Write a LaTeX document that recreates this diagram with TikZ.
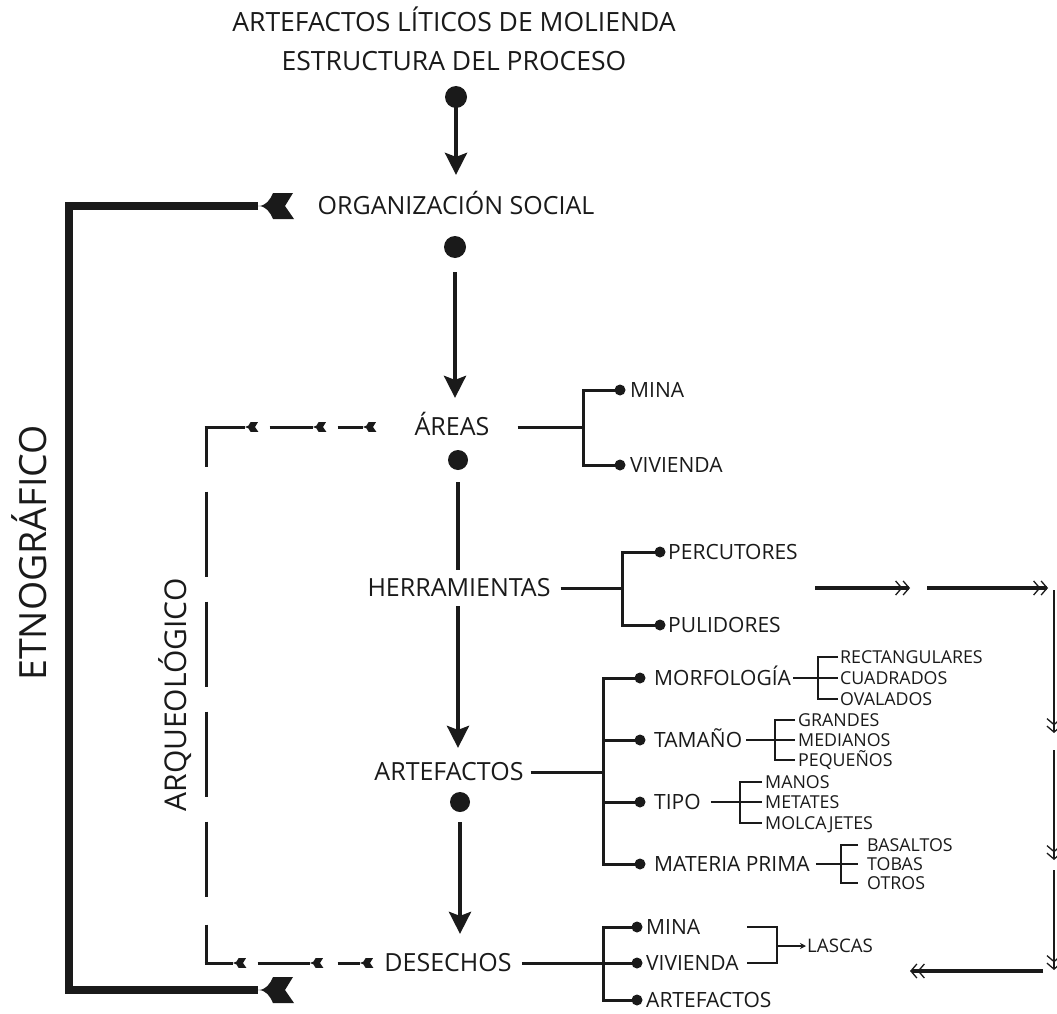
\documentclass[tikz,border=0pt]{standalone}
\usepackage{fontspec}
\setmainfont{Open Sans}
\usetikzlibrary{arrows.meta}
\definecolor{ink}{HTML}{1A1A1A}
\tikzset{
  fletch/.pic={\fill[ink] (0,0) .. controls (8,0) and (12,-6) .. (15,-13) -- (35,-13) -- (27,0) -- (36,13) -- (15,13) .. controls (12,6) and (8,0) .. (0,0) -- cycle;},
}
\begin{document}
\begin{tikzpicture}[x=1pt,y=-1pt,
  every node/.style={inner sep=0pt, text depth=0pt, text=ink},
  title/.style={font=\fontsize{26.5}{26.5}\selectfont, text height=18.9pt},
  main/.style={font=\fontsize{25}{25}\selectfont, text height=17.8pt},
  lab/.style={font=\fontsize{21}{21}\selectfont, text height=15pt, anchor=west},
  sub/.style={font=\fontsize{17.8}{17.8}\selectfont, text height=12.7pt, anchor=west},
  big/.style={font=\fontsize{37.5}{37.5}\selectfont, text height=26.8pt, rotate=90},
  dot/.style={circle, fill=ink, minimum size=22pt},
  sdot/.style={circle, fill=ink, minimum size=11pt},
  mainarr/.style={draw=ink, line width=4pt, -{Stealth[length=22pt,width=22pt,inset=4pt]}},
  stem/.style={draw=ink, line width=4pt},
  br/.style={draw=ink, line width=3pt},
  thinl/.style={draw=ink, line width=1.8pt},
  dbl/.style={draw=ink, line width=3.5pt, -{Straight Barb[line width=1.3pt,length=6pt,width=14pt] Straight Barb[line width=1.3pt,length=6pt,width=14pt]}},
  rv/.style={draw=ink, line width=2.5pt, -{Straight Barb[line width=1.3pt,length=6pt,width=14pt] Straight Barb[line width=1.3pt,length=6pt,width=14pt]}},
  dashl/.style={draw=ink, line width=3pt},
]
\fill[white] (0,0) rectangle (1057,1014);
\useasboundingbox (0,0) rectangle (1057,1014);

% main column
\node[title] (t1) at (454,22) {ARTEFACTOS LÍTICOS DE MOLIENDA};
\node[title] (t2) at (454,61) {ESTRUCTURA DEL PROCESO};
\node[dot] (d0) at (456,97) {};
\node[main] (org) at (456,206) {ORGANIZACIÓN SOCIAL};
\node[dot] (d1) at (455,247) {};
\node[main] (areas) at (452,427) {ÁREAS};
\node[dot, minimum size=20pt] (d2) at (458,460) {};
\node[main] (herr) at (459,588) {HERRAMIENTAS};
\node[main] (artef) at (449,772) {ARTEFACTOS};
\node[dot, minimum size=20pt] (d3) at (460,802) {};
\node[main] (des) at (448,963) {DESECHOS};

\draw[mainarr, shorten >=22pt] (d0.center) -- (d0 |- org.north);
\draw[mainarr, shorten <=14pt, shorten >=20pt] (d1) -- (d1 |- areas.north);
\draw[stem, shorten <=12pt, shorten >=9pt] (d2) -- (d2 |- herr.north);
\draw[mainarr, shorten <=9pt, shorten >=15pt] (d2 |- herr.south) -- (d2 |- artef.north);
\draw[mainarr, shorten <=10pt, shorten >=20pt] (d3) -- (d3 |- des.north);

% etnografico bracket
\coordinate (orgTip) at (258,206);
\coordinate (desTip) at (258,990);
\coordinate (eTop) at (69,206);
\coordinate (eBot) at (69,990);
\draw[draw=ink, line width=7.5pt] (orgTip) -- (eTop) -- (eBot) -- (desTip);
\pic at (orgTip) {fletch};
\pic at (desTip) {fletch};
\node[big] (etno) at (33,553) {ETNOGRÁFICO};

% arqueologico bracket
\coordinate (aTop) at (206,427);
\coordinate (aBot) at (206,963);
\coordinate (aH) at (363,427);
\coordinate (bH) at (360,963);
\draw[dashl, dash pattern=on 38pt off 25pt on 85pt off 25pt on 85pt off 25pt on 85pt off 25pt on 75pt off 28pt on 40pt] ([yshift=-1.5pt]aTop) -- ([yshift=1.5pt]aBot);
\draw[dashl, dash pattern=on 40pt off 25pt on 43pt off 25pt on 25pt] ([xshift=-1.5pt]aTop) -- (aH);
\draw[dashl, dash pattern=on 28pt off 25pt on 52pt off 28pt on 22pt] ([xshift=-1.5pt]aBot) -- (bH);
\foreach \x in {245,313,363} \pic[scale=0.37] at (\x,427) {fletch};
\foreach \x in {233,310,360} \pic[scale=0.37] at (\x,963) {fletch};
\node[big, font=\fontsize{30}{30}\selectfont, text height=21.4pt] (arq) at (176,695) {ARQUEOLÓGICO};

% areas branch
\coordinate (aj) at (583,427);
\node[sdot] (am) at (620,390) {};
\node[sdot] (av) at (620,465) {};
\node[lab] (amt) at (630,390) {MINA};
\node[lab] (avt) at (630,465) {VIVIENDA};
\draw[br, shorten <=28pt] (areas.east) -- (aj);
\draw[br] (am.center) -| (aj) |- (av.center);

% herramientas branch
\coordinate (hj) at (622,588);
\node[sdot] (hp) at (660,552) {};
\node[sdot] (hu) at (660,625) {};
\node[lab] (hpt) at (668,552) {PERCUTORES};
\node[lab] (hut) at (668,625) {PULIDORES};
\draw[br, shorten <=10pt] (herr.east) -- (hj);
\draw[br] (hp.center) -| (hj) |- (hu.center);

% double arrows and right loop
\coordinate (q1) at (815,588); \coordinate (q2) at (910,588);
\coordinate (q3) at (927,588); \coordinate (q4) at (1048,588);
\draw[dbl] (q1) -- (q2);
\draw[dbl] (q3) -- (q4);
\coordinate (r1) at (1054,590); \coordinate (r2) at (1054,733);
\coordinate (r3) at (1054,750); \coordinate (r4) at (1054,860);
\coordinate (r5) at (1054,870); \coordinate (r6) at (1054,970);
\draw[rv] (r1) -- (r2);
\draw[rv] (r3) -- (r4);
\draw[rv] (r5) -- (r6);
\coordinate (s1) at (1043,971); \coordinate (s2) at (910,971);
\draw[dbl] (s1) -- (s2);

% artefactos branch
\coordinate (xj) at (603,772);
\node[sdot] (xm) at (640,678) {};
\node[sdot] (xt) at (640,740) {};
\node[sdot] (xp) at (640,802) {};
\node[sdot] (xmp) at (640,864) {};
\node[lab] (morf) at (654,678) {MORFOLOGÍA};
\node[lab] (tam) at (654,740) {TAMAÑO};
\node[lab] (tipo) at (654,802) {TIPO};
\node[lab] (mp) at (654,864) {MATERIA PRIMA};
\draw[br, shorten <=7pt] (artef.east) -- (xj);
\draw[br] (xm.center) -| (xj |- xmp) -- (xmp.center);
\draw[br] (xj |- xt) -- (xt.center);
\draw[br] (xj |- xp) -- (xp.center);

% morfologia
\coordinate (mj) at (818,678);
\node[sub] (m1) at (840,657) {RECTANGULARES};
\node[sub] (m2) at (840,678) {CUADRADOS};
\node[sub] (m3) at (840,699) {OVALADOS};
\draw[thinl] ([xshift=-2pt]m1.west) -| (mj) |- ([xshift=-2pt]m3.west);
\draw[thinl, shorten <=2pt] (morf.east) -- ([xshift=-2pt]m2.west);
% tamano
\coordinate (tj) at (775,740);
\node[sub] (g1) at (798,720) {GRANDES};
\node[sub] (g2) at (798,740) {MEDIANOS};
\node[sub] (g3) at (798,760) {PEQUEÑOS};
\draw[thinl] ([xshift=-3pt]g1.west) -| (tj) |- ([xshift=-3pt]g3.west);
\draw[thinl, shorten <=4pt] (tam.east) -- ([xshift=-3pt]g2.west);
% tipo
\coordinate (pj) at (740,802);
\node[sub] (p1) at (765,782) {MANOS};
\node[sub] (p2) at (765,802) {METATES};
\node[sub] (p3) at (765,823) {MOLCAJETES};
\draw[thinl] ([xshift=-3pt]p1.west) -| (pj) |- ([xshift=-3pt]p3.west);
\draw[thinl, shorten <=10pt] (tipo.east) -- ([xshift=-3pt]p2.west);
% materia prima
\coordinate (mpj) at (841,864);
\node[sub] (b1) at (867,845) {BASALTOS};
\node[sub] (b2) at (867,864) {TOBAS};
\node[sub] (b3) at (867,883) {OTROS};
\draw[thinl] ([xshift=-9pt]b1.west) -| (mpj) |- ([xshift=-9pt]b3.west);
\draw[thinl, shorten <=6pt] (mp.east) -- ([xshift=-9pt]b2.west);

% desechos branch
\coordinate (dj) at (603,963);
\node[sdot] (dm) at (637,927) {};
\node[sdot] (dv) at (637,963) {};
\node[sdot] (da) at (637,1000) {};
\node[lab] (dmt) at (646,927) {MINA};
\node[lab] (dvt) at (646,963) {VIVIENDA};
\node[lab] (dat) at (646,1000) {ARTEFACTOS};
\draw[br, shorten <=10pt] (des.east) -- (dj);
\draw[br] (dm.center) -| (dj |- da) -- (da.center);
\draw[br] (dj) -- (dv.center);
\coordinate (l1) at (747,927);
\coordinate (l3) at (747,963);
\coordinate (lj) at (777,946);
\node[font=\fontsize{18.7}{18.7}\selectfont, text height=13.3pt, anchor=west] (lascas) at (807,946) {LASCAS};
\draw[thinl] (l1) -| (lj) |- (l3);
\draw[thinl, -{Stealth[length=6pt,width=6pt]}, shorten >=1pt] (lj) -- (lascas.west);
\end{tikzpicture}
\end{document}
